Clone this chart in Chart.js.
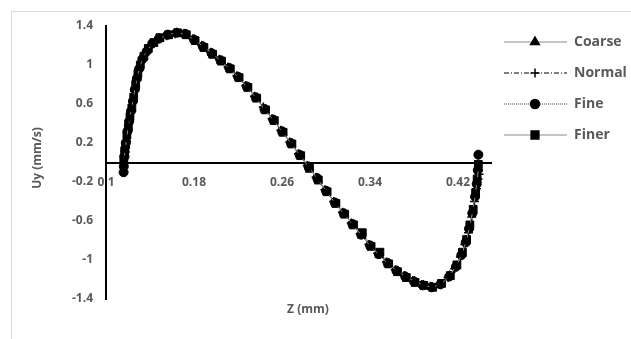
<!DOCTYPE html>
<html>
<head>
<meta charset="utf-8">
<script src="https://cdn.jsdelivr.net/npm/chart.js@4/dist/chart.umd.min.js"></script>
<style>
  html, body { margin: 0; padding: 0; background: #fff; overflow: hidden; }
  .frame { position: absolute; left: 11px; top: 11px; width: 640px; height: 340px; border: 1px solid #d9d9d9; }
  #wrap { position: absolute; left: 0; top: 0; width: 631px; height: 339px; }
</style>
</head>
<body>
<div class="frame"></div>
<div id="wrap"><canvas id="chart" width="631" height="339"></canvas></div>
<script>
// ============================
// DATA
// ============================
const seriesNames = ["Coarse", "Normal", "Fine", "Finer"];
const xTicks = [0.1, 0.18, 0.26, 0.34, 0.42];
const yTicks = [-1.4, -1, -0.6, -0.2, 0.2, 0.6, 1, 1.4];

const zCoarse = [0.1164, 0.1174, 0.1186, 0.1200, 0.1214, 0.1230, 0.1248, 0.1265, 0.1283, 0.1304, 0.1335, 0.1375, 0.1425, 0.1485, 0.1565, 0.1645, 0.1725, 0.1805, 0.1885, 0.1965, 0.2045, 0.2125, 0.2205, 0.2285, 0.2365, 0.2445, 0.2525, 0.2605, 0.2685, 0.2765, 0.2845, 0.2925, 0.3005, 0.3085, 0.3165, 0.3245, 0.3325, 0.3405, 0.3485, 0.3565, 0.3645, 0.3725, 0.3805, 0.3885, 0.3965, 0.4045, 0.4125, 0.4185, 0.4235, 0.4274, 0.4304, 0.4334, 0.4357, 0.4372, 0.4386];
const uyCoarse = [0.02, 0.13, 0.24, 0.36, 0.45, 0.55, 0.65, 0.77, 0.87, 0.97, 1.07, 1.15, 1.22, 1.27, 1.31, 1.33, 1.31, 1.26, 1.19, 1.12, 1.04, 0.96, 0.87, 0.77, 0.66, 0.54, 0.43, 0.31, 0.19, 0.07, -0.05, -0.17, -0.30, -0.42, -0.53, -0.64, -0.75, -0.86, -0.95, -1.04, -1.11, -1.17, -1.22, -1.26, -1.28, -1.25, -1.16, -1.06, -0.94, -0.81, -0.66, -0.50, -0.33, -0.20, -0.06];

const zNormal = [0.1163, 0.1172, 0.1183, 0.1196, 0.1210, 0.1226, 0.1243, 0.1260, 0.1277, 0.1296, 0.1322, 0.1360, 0.1405, 0.1465, 0.1550, 0.1630, 0.1710, 0.1790, 0.1870, 0.1950, 0.2030, 0.2110, 0.2190, 0.2270, 0.2350, 0.2430, 0.2510, 0.2590, 0.2670, 0.2750, 0.2830, 0.2910, 0.2990, 0.3070, 0.3150, 0.3230, 0.3310, 0.3390, 0.3470, 0.3550, 0.3630, 0.3710, 0.3790, 0.3870, 0.3950, 0.4030, 0.4110, 0.4170, 0.4222, 0.4262, 0.4295, 0.4325, 0.4350, 0.4368, 0.4382, 0.4392];
const uyNormal = [0.00, 0.12, 0.22, 0.33, 0.43, 0.52, 0.62, 0.73, 0.84, 0.94, 1.03, 1.12, 1.20, 1.26, 1.30, 1.32, 1.32, 1.27, 1.20, 1.13, 1.06, 0.98, 0.89, 0.79, 0.68, 0.57, 0.45, 0.33, 0.21, 0.09, -0.03, -0.15, -0.28, -0.40, -0.51, -0.62, -0.73, -0.84, -0.93, -1.02, -1.10, -1.16, -1.21, -1.25, -1.27, -1.25, -1.18, -1.09, -0.97, -0.84, -0.72, -0.56, -0.40, -0.27, -0.17, -0.12];

const zFine = [0.1160, 0.1162, 0.1168, 0.1180, 0.1195, 0.1210, 0.1228, 0.1245, 0.1262, 0.1280, 0.1300, 0.1330, 0.1370, 0.1420, 0.1480, 0.1560, 0.1640, 0.1720, 0.1800, 0.1880, 0.1960, 0.2040, 0.2120, 0.2200, 0.2280, 0.2360, 0.2440, 0.2520, 0.2600, 0.2680, 0.2760, 0.2840, 0.2920, 0.3000, 0.3080, 0.3160, 0.3240, 0.3320, 0.3400, 0.3480, 0.3560, 0.3640, 0.3720, 0.3800, 0.3880, 0.3960, 0.4040, 0.4120, 0.4180, 0.4230, 0.4270, 0.4300, 0.4330, 0.4355, 0.4370, 0.4380, 0.4385];
const uyFine = [-0.10, -0.04, 0.06, 0.20, 0.32, 0.42, 0.53, 0.63, 0.75, 0.86, 0.96, 1.06, 1.14, 1.22, 1.27, 1.31, 1.33, 1.32, 1.26, 1.19, 1.12, 1.05, 0.97, 0.88, 0.78, 0.67, 0.55, 0.44, 0.32, 0.20, 0.08, -0.04, -0.16, -0.29, -0.41, -0.52, -0.63, -0.74, -0.85, -0.94, -1.03, -1.11, -1.17, -1.22, -1.26, -1.28, -1.25, -1.17, -1.07, -0.95, -0.82, -0.68, -0.52, -0.35, -0.22, -0.08, 0.08];

const zFiner = [0.1162, 0.1170, 0.1178, 0.1190, 0.1203, 0.1218, 0.1235, 0.1252, 0.1270, 0.1290, 0.1312, 0.1345, 0.1385, 0.1435, 0.1490, 0.1570, 0.1650, 0.1730, 0.1810, 0.1890, 0.1970, 0.2050, 0.2130, 0.2210, 0.2290, 0.2370, 0.2450, 0.2530, 0.2610, 0.2690, 0.2770, 0.2850, 0.2930, 0.3010, 0.3090, 0.3170, 0.3250, 0.3330, 0.3410, 0.3490, 0.3570, 0.3650, 0.3730, 0.3810, 0.3890, 0.3970, 0.4050, 0.4130, 0.4190, 0.4240, 0.4278, 0.4308, 0.4338, 0.4360, 0.4374, 0.4385];
const uyFiner = [0.04, 0.12, 0.18, 0.28, 0.36, 0.47, 0.56, 0.67, 0.80, 0.91, 1.00, 1.09, 1.17, 1.23, 1.28, 1.31, 1.33, 1.31, 1.25, 1.18, 1.11, 1.04, 0.96, 0.87, 0.77, 0.66, 0.54, 0.43, 0.31, 0.19, 0.07, -0.06, -0.18, -0.30, -0.42, -0.53, -0.64, -0.72, -0.86, -0.92, -1.04, -1.12, -1.18, -1.23, -1.26, -1.28, -1.24, -1.16, -1.05, -0.92, -0.79, -0.64, -0.48, -0.31, -0.17, -0.02];

const toPoints = (xs, ys) => xs.map((x, i) => ({ x: x, y: ys[i] }));

// ============================
// LEGEND + AXIS TITLES (drawn by hand, Excel style)
// ============================
const sideLegend = {
  id: "sideLegend",
  afterDraw(chart) {
    const ctx = chart.ctx;
    chart.data.datasets.forEach((ds, i) => {
      const y = 42 + i * 31;
      ctx.save();
      ctx.strokeStyle = ds.borderColor;
      ctx.lineWidth = ds.borderWidth;
      ctx.setLineDash(ds.borderDash || []);
      ctx.beginPath();
      ctx.moveTo(504, y);
      ctx.lineTo(567, y);
      ctx.stroke();
      ctx.setLineDash([]);
      ctx.fillStyle = "#000";
      ctx.strokeStyle = "#000";
      ctx.lineWidth = 1.5;
      Chart.helpers.drawPoint(ctx, { pointStyle: ds.pointStyle, radius: ds.pointRadius, borderWidth: 1.5 }, 535, y);
      ctx.fillStyle = "#595959";
      ctx.font = "bold 14px 'Open Sans', sans-serif";
      ctx.textAlign = "left";
      ctx.textBaseline = "middle";
      ctx.fillText(ds.label, 574, y);
      ctx.restore();
    });

    ctx.save();
    ctx.fillStyle = "#595959";
    ctx.font = "bold 12px 'Open Sans', sans-serif";
    ctx.textAlign = "center";
    ctx.textBaseline = "middle";
    ctx.fillText("Z (mm)", 308, 310);
    ctx.translate(38, 158);
    ctx.rotate(-Math.PI / 2);
    ctx.fillText("Uy (mm/s)", 0, 0);
    ctx.restore();
  }
};

// ============================
// CHART
// ============================
Chart.defaults.font.family = "'Open Sans', sans-serif";
Chart.defaults.font.weight = "bold";
Chart.defaults.color = "#595959";

const ctx = document.getElementById("chart").getContext("2d");
new Chart(ctx, {
  type: "scatter",
  data: {
    datasets: [
      {
        label: seriesNames[0],
        data: toPoints(zCoarse, uyCoarse),
        showLine: true,
        borderColor: "#8c8c8c",
        borderWidth: 1,
        pointStyle: "triangle",
        pointRadius: 5,
        pointBackgroundColor: "#000",
        pointBorderColor: "#000"
      },
      {
        label: seriesNames[1],
        data: toPoints(zNormal, uyNormal),
        showLine: true,
        borderColor: "#000",
        borderWidth: 1,
        borderDash: [5, 2, 1, 2],
        pointStyle: "cross",
        pointRadius: 4.5,
        pointBorderWidth: 1.5,
        pointBackgroundColor: "#000",
        pointBorderColor: "#000"
      },
      {
        label: seriesNames[2],
        data: toPoints(zFine, uyFine),
        showLine: true,
        borderColor: "#404040",
        borderWidth: 1,
        borderDash: [1, 1],
        pointStyle: "circle",
        pointRadius: 4.5,
        pointBackgroundColor: "#000",
        pointBorderColor: "#000"
      },
      {
        label: seriesNames[3],
        data: toPoints(zFiner, uyFiner),
        showLine: true,
        borderColor: "#8c8c8c",
        borderWidth: 1,
        pointStyle: "rect",
        pointRadius: 5.5,
        pointBackgroundColor: "#000",
        pointBorderColor: "#000"
      }
    ]
  },
  options: {
    responsive: false,
    animation: false,
    devicePixelRatio: 1,
    layout: { padding: { left: 66, right: 140, top: 26, bottom: 40 } },
    plugins: { legend: { display: false }, tooltip: { enabled: false } },
    scales: {
      x: {
        type: "linear",
        position: { y: 0 },
        min: 0.1,
        max: 0.45,
        afterBuildTicks: scale => { scale.ticks = xTicks.map(v => ({ value: v })); },
        grid: { display: false, drawTicks: false },
        border: { display: true, color: "#000", width: 2 },
        ticks: { padding: 13, font: { size: 12, weight: "bold" }, callback: v => String(v), maxRotation: 0 }
      },
      y: {
        type: "linear",
        position: "left",
        min: -1.4,
        max: 1.4,
        afterBuildTicks: scale => { scale.ticks = yTicks.map(v => ({ value: v })); },
        afterFit: scale => { scale.width = 40; },
        grid: { display: false, drawTicks: false },
        border: { display: true, color: "#000", width: 2 },
        ticks: { padding: 13, font: { size: 12, weight: "bold" }, callback: v => String(v) }
      }
    }
  },
  plugins: [sideLegend]
});
</script>
</body>
</html>
